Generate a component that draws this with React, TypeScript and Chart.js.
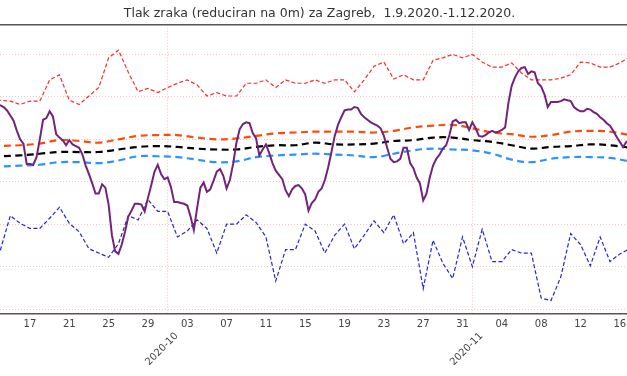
import { useEffect, useRef } from 'react';
import { Chart, registerables } from 'chart.js';

Chart.register(...registerables);

const TITLE = 'Tlak zraka (reduciran na 0m) za Zagreb,  1.9.2020.-1.12.2020.';

// x = days since 1.9.2020 (0 = 1 Sep). Visible window of the picture.
const X_MIN = 12.95;
const X_MAX = 76.73;
const Y_MIN = 999.41;
const Y_MAX = 1033.5;

const gridValues = [1000, 1005, 1010, 1015, 1020, 1025, 1030];
const dayTickValues = [16, 20, 24, 28, 32, 36, 40, 44, 48, 52, 56, 60, 64, 68, 72, 76];
const dayTickLabels = ['17', '21', '25', '29', '03', '07', '11', '15', '19', '23', '27', '31', '04', '08', '12', '16'];
const monthTickValues = [30, 61];
const monthTickLabels = ['2020-10', '2020-11'];

// daily extremes, from day 12
const DAILY_START = 12;
const maxDaily = [
  1024.6, 1024.6, 1024.5, 1024.1, 1024.5, 1024.5, 1027.0, 1027.6, 1024.6, 1024.1,
  1025.1, 1026.1, 1029.6, 1030.5, 1027.9, 1025.6, 1026.0, 1025.5, 1026.1, 1026.6,
  1027.0, 1026.4, 1025.1, 1025.5, 1025.1, 1025.1, 1026.6, 1026.6, 1027.0, 1026.1,
  1027.0, 1026.6, 1026.6, 1027.0, 1026.6, 1027.0, 1027.0, 1025.6, 1027.0, 1028.6,
  1029.1, 1027.1, 1027.6, 1027.0, 1027.0, 1029.3, 1029.6, 1030.0, 1029.6, 1030.0,
  1029.1, 1028.5, 1028.5, 1029.0, 1027.8, 1027.0, 1027.0, 1027.0, 1027.2, 1027.6,
  1029.1, 1029.0, 1028.5, 1028.5, 1029.0, 1029.7,
];
const minDaily = [
  1005.0, 1007.0, 1011.0, 1010.1, 1009.5, 1009.5, 1010.7, 1012.0, 1010.1, 1009.1,
  1007.1, 1006.6, 1006.1, 1007.7, 1011.0, 1010.5, 1012.9, 1011.5, 1011.5, 1008.5,
  1009.2, 1010.5, 1009.5, 1006.6, 1010.0, 1010.0, 1011.1, 1010.2, 1008.5, 1003.3,
  1007.0, 1007.0, 1010.0, 1009.2, 1006.6, 1008.7, 1010.0, 1007.1, 1008.7, 1010.4,
  1009.0, 1011.1, 1007.7, 1009.0, 1002.4, 1008.1, 1005.4, 1003.6, 1008.5, 1005.0,
  1009.4, 1005.6, 1005.6, 1007.0, 1006.6, 1006.6, 1001.3, 1001.0, 1003.8, 1008.9,
  1007.6, 1005.1, 1008.5, 1005.6, 1006.5, 1007.1,
];

// smooth climatology curves, every 2 days from day 11
const SMOOTH_START = 11;
const SMOOTH_STEP = 2;
const meanPlusStd = [
  1019.1, 1019.2, 1019.3, 1019.5, 1019.9, 1019.8, 1019.6, 1020.0, 1020.4, 1020.5,
  1020.5, 1020.2, 1020.0, 1020.1, 1020.4, 1020.7, 1020.8, 1020.9, 1020.9, 1020.9,
  1020.8, 1021.0, 1021.4, 1021.6, 1021.7, 1021.3, 1020.8, 1020.6, 1020.3, 1020.5,
  1020.9, 1021.0, 1020.9, 1020.5,
];
const meanValues = [
  1017.9, 1018.0, 1018.1, 1018.3, 1018.5, 1018.5, 1018.5, 1018.8, 1019.1, 1019.2,
  1019.1, 1018.9, 1018.8, 1018.8, 1019.1, 1019.3, 1019.3, 1019.6, 1019.4, 1019.4,
  1019.5, 1019.8, 1019.9, 1020.2, 1020.2, 1019.9, 1019.7, 1019.3, 1018.9, 1019.1,
  1019.2, 1019.4, 1019.3, 1019.0,
];
const meanMinusStd = [
  1016.7, 1016.8, 1016.9, 1017.0, 1017.3, 1017.3, 1017.2, 1017.5, 1018.0, 1018.0,
  1017.9, 1017.6, 1017.3, 1017.4, 1017.9, 1018.1, 1018.2, 1018.3, 1018.2, 1018.1,
  1017.9, 1018.3, 1018.7, 1018.9, 1018.8, 1018.7, 1018.3, 1017.6, 1017.3, 1017.7,
  1017.9, 1017.9, 1017.8, 1017.4,
];

// 2020 observations, every 1/3 day
const OBS_START = 12 + 2 / 3;
const OBS_STEP = 1 / 3;
const pressure2020 = [
  1024.1,
  1024.0, 1023.8, 1023.4, 1022.8, 1022.2, 1021.0, 1020.0, 1019.5, 1017.1, 1017.1,
  1017.0, 1017.9, 1020.0, 1022.3, 1022.5, 1023.3, 1022.7, 1020.6, 1020.2, 1019.9,
  1019.3, 1019.9, 1019.4, 1019.2, 1019.0, 1018.2, 1016.9, 1015.9, 1014.8, 1013.6,
  1013.6, 1014.7, 1014.3, 1012.3, 1008.7, 1006.8, 1006.5, 1007.6, 1009.1, 1010.9,
  1011.6, 1012.4, 1012.4, 1012.3, 1011.5, 1013.1, 1014.6, 1016.2, 1017.0, 1015.9,
  1015.3, 1015.5, 1014.4, 1012.6, 1012.6, 1012.5, 1012.4, 1012.2, 1010.9, 1009.3,
  1011.9, 1014.3, 1014.9, 1013.8, 1014.1, 1015.1, 1016.2, 1016.5, 1015.7, 1014.2,
  1015.2, 1017.1, 1019.6, 1021.2, 1021.8, 1022.0, 1021.9, 1020.7, 1020.1, 1018.1,
  1018.8, 1019.4, 1018.4, 1017.2, 1016.3, 1015.8, 1015.3, 1014.0, 1013.3, 1014.1,
  1014.5, 1014.6, 1014.2, 1013.5, 1011.6, 1012.5, 1012.9, 1013.8, 1014.2, 1015.2,
  1016.7, 1018.5, 1020.4, 1021.7, 1022.6, 1023.4, 1023.5, 1023.5, 1023.8, 1023.7,
  1023.0, 1022.6, 1022.3, 1022.0, 1021.8, 1021.6, 1021.3, 1020.4, 1019.0, 1017.7,
  1017.3, 1017.4, 1017.7, 1019.0, 1019.0, 1017.2, 1016.6, 1015.5, 1014.8, 1012.8,
  1013.6, 1015.5, 1016.9, 1017.7, 1018.2, 1018.9, 1019.3, 1020.5, 1022.1, 1022.3,
  1021.9, 1022.0, 1022.0, 1021.1, 1022.0, 1021.3, 1020.4, 1020.3, 1020.5, 1020.8,
  1021.0, 1020.8, 1020.9, 1021.1, 1021.4, 1024.3, 1026.3, 1027.3, 1028.0, 1028.4,
  1028.5, 1027.7, 1028.0, 1027.9, 1026.6, 1026.2, 1025.3, 1023.8, 1024.4, 1024.4,
  1024.4, 1024.5, 1024.7, 1024.6, 1024.5, 1023.8, 1023.5, 1023.3, 1023.3, 1023.6,
  1023.5, 1023.2, 1023.0, 1022.6, 1022.3, 1021.9, 1021.6, 1021.0, 1020.3, 1019.7,
  1019.1, 1019.7, 1019.9,
];

const GRID_COLOR = 'rgba(240,150,130,0.55)';
const FONT = 'DejaVu Sans';

function series(start: number, step: number, values: number[]) {
  return values.map((v, i) => ({ x: start + i * step, y: v }));
}

export default function App() {
  const ref = useRef<HTMLCanvasElement>(null);

  useEffect(() => {
    document.body.style.margin = '0';
    const canvas = ref.current;
    if (!canvas) return;
    Chart.defaults.font.family = FONT;

    const chart = new Chart(canvas, {
      type: 'line',
      data: {
        datasets: [
          {
            label: '2020',
            data: series(OBS_START, OBS_STEP, pressure2020),
            borderColor: '#72237a',
            borderWidth: 2,
            pointRadius: 0,
            order: 0,
            xAxisID: 'x',
            yAxisID: 'y',
          },
          {
            label: 'max',
            data: series(DAILY_START, 1, maxDaily),
            borderColor: '#ff2a2a',
            borderWidth: 1.2,
            borderDash: [4, 2.3],
            pointRadius: 0,
            order: 1,
            xAxisID: 'x',
            yAxisID: 'y',
          },
          {
            label: 'min',
            data: series(DAILY_START, 1, minDaily),
            borderColor: '#2424dc',
            borderWidth: 1.2,
            borderDash: [4, 2.3],
            pointRadius: 0,
            order: 1,
            xAxisID: 'x',
            yAxisID: 'y',
          },
          {
            label: 'mean+std',
            data: series(SMOOTH_START, SMOOTH_STEP, meanPlusStd),
            borderColor: '#ff4a0a',
            borderWidth: 2.2,
            borderDash: [7, 4.5],
            tension: 0.4,
            pointRadius: 0,
            order: 2,
            xAxisID: 'x',
            yAxisID: 'y',
          },
          {
            label: 'mean',
            data: series(SMOOTH_START, SMOOTH_STEP, meanValues),
            borderColor: '#000000',
            borderWidth: 2.2,
            borderDash: [7, 4.5],
            tension: 0.4,
            pointRadius: 0,
            order: 2,
            xAxisID: 'x',
            yAxisID: 'y',
          },
          {
            label: 'mean-std',
            data: series(SMOOTH_START, SMOOTH_STEP, meanMinusStd),
            borderColor: '#2a93ff',
            borderWidth: 2.2,
            borderDash: [7, 4.5],
            tension: 0.4,
            pointRadius: 0,
            order: 2,
            xAxisID: 'x',
            yAxisID: 'y',
          },
        ],
      },
      options: {
        responsive: false,
        animation: false,
        devicePixelRatio: 1,
        events: [],
        layout: { padding: { left: 0, right: 0, top: 0, bottom: 7.9 } },
        plugins: {
          legend: { display: false },
          tooltip: { enabled: false },
          title: {
            display: true,
            text: TITLE,
            color: '#333333',
            font: { family: FONT, size: 12.5, weight: 'normal' },
            padding: { top: 6.4, bottom: 3.3 },
          },
        },
        scales: {
          x: {
            type: 'linear',
            position: 'bottom',
            min: X_MIN,
            max: X_MAX,
            weight: 0,
            afterBuildTicks: (s: any) => {
              s.ticks = dayTickValues.map((v) => ({ value: v }));
            },
            afterFit: (s: any) => {
              s.height = 16;
            },
            ticks: {
              autoSkip: false,
              minRotation: 0,
              maxRotation: 0,
              padding: 4.7,
              color: '#444444',
              font: { family: FONT, size: 10 },
              callback: (_v: any, i: number) => dayTickLabels[i],
            },
            grid: { display: false, drawTicks: false },
            border: { display: true, color: '#555555', width: 1.5 },
          },
          xm: {
            type: 'linear',
            position: 'bottom',
            min: X_MIN,
            max: X_MAX,
            weight: 1,
            afterBuildTicks: (s: any) => {
              s.ticks = monthTickValues.map((v) => ({ value: v }));
            },
            ticks: {
              autoSkip: false,
              minRotation: 45,
              maxRotation: 45,
              padding: 0,
              labelOffset: 9,
              color: '#444444',
              font: { family: FONT, size: 10 },
              callback: (_v: any, i: number) => monthTickLabels[i],
            },
            grid: { display: true, drawTicks: false, color: GRID_COLOR, lineWidth: 1 },
            border: { display: false, dash: [1, 2] },
          },
          xt: {
            type: 'linear',
            position: 'top',
            min: X_MIN,
            max: X_MAX,
            ticks: { display: false },
            grid: { display: false, drawTicks: false },
            border: { display: true, color: '#555555', width: 1.5 },
          },
          y: {
            type: 'linear',
            position: 'left',
            min: Y_MIN,
            max: Y_MAX,
            afterBuildTicks: (s: any) => {
              s.ticks = gridValues.map((v) => ({ value: v }));
            },
            afterFit: (s: any) => {
              s.width = 0;
            },
            ticks: { display: false },
            grid: { display: true, drawTicks: false, color: GRID_COLOR, lineWidth: 1 },
            border: { display: false, dash: [1, 2] },
          },
          yr: {
            type: 'linear',
            position: 'right',
            min: Y_MIN,
            max: Y_MAX,
            afterFit: (s: any) => {
              s.width = 12;
            },
            ticks: { display: false },
            grid: { display: false, drawTicks: false },
            border: { display: false },
          },
        },
      } as any,
    });

    return () => chart.destroy();
  }, []);

  return (
    <div style={{ width: 627, height: 376, overflow: 'hidden', position: 'relative' }}>
      <canvas ref={ref} width={639} height={376} style={{ display: 'block', width: 639, height: 376 }} />
    </div>
  );
}
